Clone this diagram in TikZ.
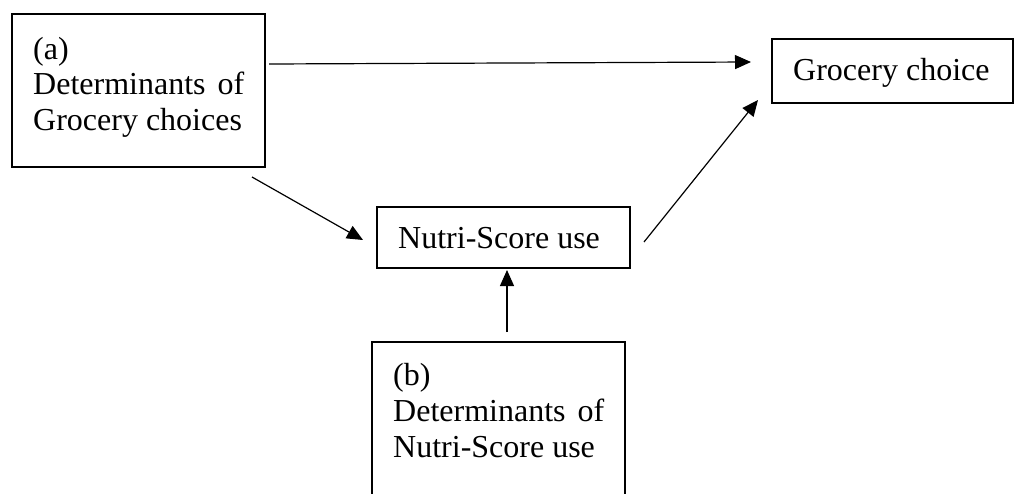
\documentclass[tikz,border=0pt]{standalone}
\usepackage{fontspec}
\setmainfont{Liberation Serif}
\usetikzlibrary{arrows.meta}
\tikzset{
  box/.style={draw=black, line width=1.7pt, rectangle, inner sep=0pt},
  lbl/.style={anchor=base west, inner sep=0pt, font=\fontsize{32}{36}\selectfont},
  conn/.style={line width=1.2pt, -{Triangle[length=16pt,width=14pt]}}
}
\begin{document}
\begin{tikzpicture}[x=1pt,y=-1pt]
\useasboundingbox (0,0) rectangle (1014,493);
\clip (0,0) rectangle (1014,493);
% boxes
\node[box, minimum width=253pt, minimum height=153pt] (A) at (138.5,90.5) {};
\node[box, minimum width=241pt, minimum height=64pt] (G) at (892.5,71) {};
\node[box, minimum width=253pt, minimum height=61pt] (N) at (503.5,237.5) {};
\node[box, minimum width=253pt, minimum height=218pt] (B) at (498.5,451) {};
% texts
\node[lbl] (A1) at (33,59) {(a)};
\node[lbl] (A2) at (33,94) {Determinants\hspace{4pt} of};
\node[lbl] (A3) at (33,130) {Grocery choices};
\node[lbl] (G1) at (793,80) {Grocery choice};
\node[lbl] (N1) at (398,248) {Nutri-Score use};
\node[lbl] (B1) at (393,385) {(b)};
\node[lbl] (B2) at (393,421) {Determinants\hspace{4pt} of};
\node[lbl] (B3) at (393,457) {Nutri-Score use};
% connector ends
\coordinate (a1) at (269,64);
\coordinate (g1) at (751,62);
\coordinate (a2) at (252,177);
\coordinate (n1) at (363,240);
\coordinate (n2) at (644,242);
\coordinate (g2) at (758,100);
\coordinate (b1) at (507,332);
\coordinate (n3) at (507,270);
\draw[conn] (a1) -- (g1);
\draw[conn] (a2) -- (n1);
\draw[conn] (n2) -- (g2);
\draw[conn] (b1) -- (n3);
\end{tikzpicture}
\end{document}
